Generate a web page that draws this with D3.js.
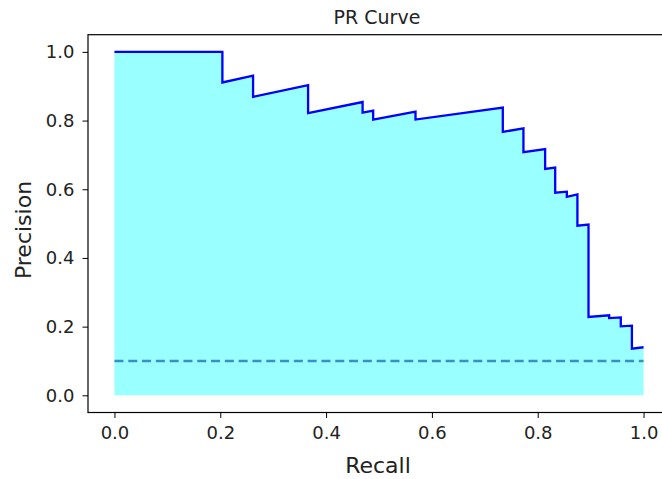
<!DOCTYPE html>
<html>
<head>
<meta charset="utf-8">
<script src="https://cdn.jsdelivr.net/npm/d3@7"></script>
<style>
  body { margin: 0; background: #fff; }
  text { font-family: "DejaVu Sans", sans-serif; fill: #222; }
</style>
</head>
<body>
<div id="chart"></div>
<script>
// values
const recall = [0, 0.204, 0.204, 0.262, 0.262, 0.366, 0.366, 0.469, 0.469, 0.489, 0.489,
  0.569, 0.569, 0.734, 0.734, 0.773, 0.773, 0.814, 0.814, 0.833, 0.833, 0.855, 0.855,
  0.875, 0.875, 0.896, 0.896, 0.935, 0.935, 0.957, 0.957, 0.978, 0.978, 1.0];
const precision = [1, 1, 0.911, 0.931, 0.869, 0.903, 0.822, 0.854, 0.823, 0.829, 0.803,
  0.826, 0.803, 0.838, 0.767, 0.777, 0.708, 0.717, 0.659, 0.663, 0.590, 0.593, 0.578,
  0.585, 0.494, 0.497, 0.228, 0.233, 0.225, 0.227, 0.201, 0.203, 0.136, 0.140];
const noSkillRecall = [0, 1];
const noSkill = [0.1, 0.1];
const xTicks = [0, 0.2, 0.4, 0.6, 0.8, 1.0];
const yTicks = [0, 0.2, 0.4, 0.6, 0.8, 1.0];

const W = 662, H = 479;
const mLeft = 88, mTop = 34.7, mRight = 670, mBottom = 412.5;

const x = d3.scaleLinear().domain([-0.05, 1.05]).range([mLeft, mRight]);
const y = d3.scaleLinear().domain([-0.05, 1.05]).range([mBottom, mTop]);

const svg = d3.select("#chart").append("svg")
  .attr("width", W).attr("height", H);

svg.append("rect").attr("width", W).attr("height", H).attr("fill", "#fff");

const pts = recall.map((r, i) => [r, precision[i]]);

// filled area under the curve
svg.append("path")
  .datum(pts)
  .attr("d", d3.area().x(d => x(d[0])).y0(y(0)).y1(d => y(d[1])))
  .attr("fill", "#99ffff");

// no-skill line
svg.append("path")
  .datum(noSkillRecall.map((r, i) => [r, noSkill[i]]))
  .attr("d", d3.line().x(d => x(d[0])).y(d => y(d[1])))
  .attr("fill", "none")
  .attr("stroke", "#3a8fc4")
  .attr("stroke-width", 2.4)
  .attr("stroke-dasharray", "9,4.8");

// PR curve
svg.append("path")
  .datum(pts)
  .attr("d", d3.line().x(d => x(d[0])).y(d => y(d[1])))
  .attr("fill", "none")
  .attr("stroke", "#0000ff")
  .attr("stroke-width", 2.3)
  .attr("stroke-linejoin", "miter");

// axes
const xAxis = svg.append("g")
  .attr("transform", `translate(0,${mBottom})`)
  .call(d3.axisBottom(x).tickValues(xTicks).tickFormat(d3.format(".1f")).tickSize(5.5).tickPadding(8));
const yAxis = svg.append("g")
  .attr("transform", `translate(${mLeft},0)`)
  .call(d3.axisLeft(y).tickValues(yTicks).tickFormat(d3.format(".1f")).tickSize(5.5).tickPadding(8));

[xAxis, yAxis].forEach(g => {
  g.select(".domain").remove();
  g.selectAll("line").attr("stroke", "#000").attr("stroke-width", 1);
  g.selectAll("text").style("font-size", "18px").attr("fill", "#222");
});

// frame (right spine falls outside the picture)
svg.append("rect")
  .attr("x", mLeft).attr("y", mTop)
  .attr("width", mRight - mLeft).attr("height", mBottom - mTop)
  .attr("fill", "none").attr("stroke", "#000").attr("stroke-width", 1.2);

svg.append("text")
  .attr("x", 377).attr("y", 24)
  .attr("text-anchor", "middle")
  .style("font-size", "19px")
  .text("PR Curve");

svg.append("text")
  .attr("x", 378).attr("y", 473)
  .attr("text-anchor", "middle")
  .style("font-size", "22px")
  .text("Recall");

svg.append("text")
  .attr("transform", "translate(31,230) rotate(-90)")
  .attr("text-anchor", "middle")
  .style("font-size", "22px")
  .text("Precision");
</script>
</body>
</html>
